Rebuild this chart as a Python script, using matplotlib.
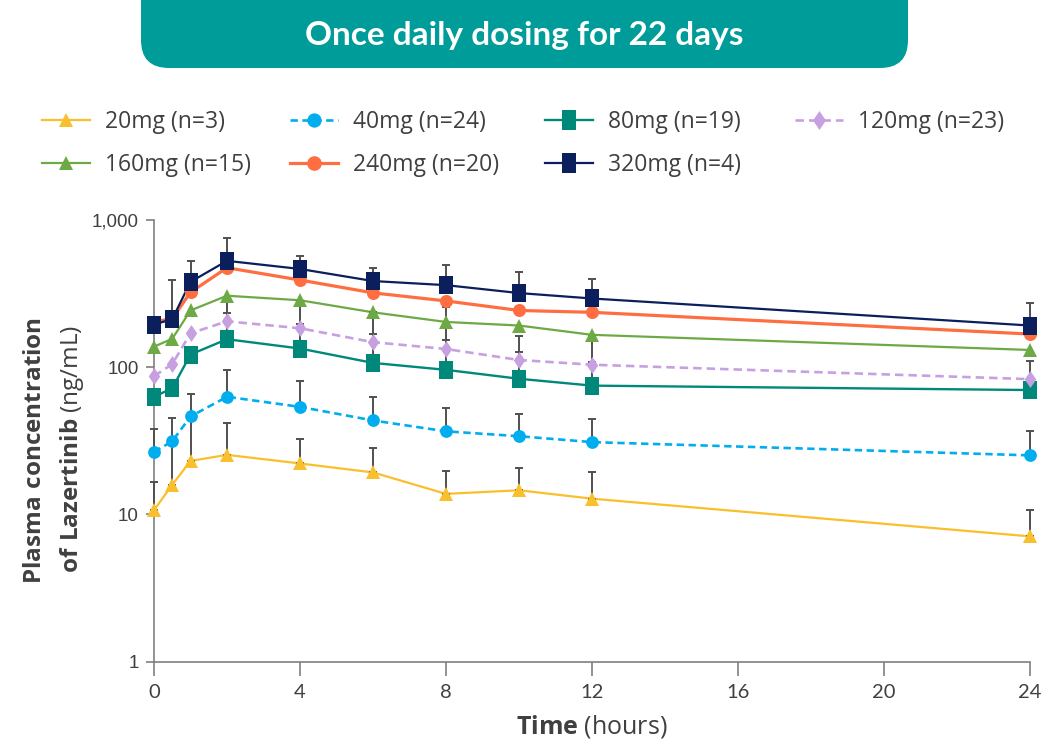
import numpy as np
import matplotlib
matplotlib.use("Agg")
import matplotlib.pyplot as plt
from matplotlib.lines import Line2D
from matplotlib.patches import FancyBboxPatch
from matplotlib.ticker import FixedLocator, NullLocator

plt.rcParams['mathtext.fontset'] = 'custom'
plt.rcParams['mathtext.rm'] = 'Open Sans'
plt.rcParams['mathtext.bf'] = 'Open Sans:bold'

nan = np.nan

# ---- data -------------------------------------------------------------
time_h = [0, 0.5, 1, 2, 4, 6, 8, 10, 12, 24]

labels = ["20mg (n=3)", "40mg (n=24)", "80mg (n=19)", "120mg (n=23)",
          "160mg (n=15)", "240mg (n=20)", "320mg (n=4)"]

# mean plasma concentration (ng/mL)
mean_20 = [10.7, 15.9, 23.1, 25.4, 22.2, 19.3, 13.8, 14.6, 12.8, 7.1]
mean_40 = [26.6, 31.4, 46.3, 63, 53.8, 43.5, 36.7, 34.0, 31.0, 25.2]
mean_80 = [63, 72, 122, 155, 134, 107, 96, 83.5, 75, 70]
mean_120 = [87, 105, 170, 205, 184, 148, 133, 112, 104, 83]
mean_160 = [138, 156, 243, 306, 285, 236, 203, 192, 166, 131]
mean_240 = [203, 214, 323, 474, 391, 320, 282, 243, 236, 168]
mean_320 = [195, 212, 380, 528, 465, 385, 361, 319, 293, 192]

# mean + SD (upper whisker end)
upper_20 = [16.6, 45, 66, 41.7, 32.8, 28.1, 19.6, 20.6, 19.3, 10.7]
upper_40 = [37.8, nan, nan, 96, 80.4, 62.3, 52.6, 48.2, 44.4, 36.9]
upper_80 = [nan, nan, nan, 233, 197, 168, 152, 126, 109, nan]
upper_120 = [nan, nan, nan, 296, 282, 236, 256, 163, 164, 111]
upper_160 = [nan] * 10
upper_240 = [nan] * 10
upper_320 = [nan, 391, 528, 753, 567, 470, 495, 442, 397, 272]

y_ticks = [1, 10, 100, 1000]
y_ticklabels = ["1", "10", "100", "1,000"]
x_ticks = [0, 4, 8, 12, 16, 20, 24]

# ---- styles -----------------------------------------------------------
rect_marker = [(-0.76, -1), (0.76, -1), (0.76, 1), (-0.76, 1), (-0.76, -1)]
diamond_marker = [(0, 1), (0.68, 0), (0, -1), (-0.68, 0), (0, 1)]

series = [
    (mean_20, upper_20, '#F9BF2C', '^', 9.4, '-', 1.6),
    (mean_40, upper_40, '#00AEEF', 'o', 9.2, (0, (2.8, 1.7)), 1.9),
    (mean_80, upper_80, '#00897B', rect_marker, 12.6, '-', 1.7),
    (mean_120, upper_120, '#C7A0E2', diamond_marker, 12.2, (0, (3.2, 1.9)), 1.9),
    (mean_160, upper_160, '#6DAA45', '^', 9.4, '-', 1.6),
    (mean_240, upper_240, '#FF6E40', 'o', 9.4, '-', 2.3),
    (mean_320, upper_320, '#0A1F5C', rect_marker, 12.6, '-', 1.6),
]

W, H = 1061, 745
fig = plt.figure(figsize=(W / 100, H / 100), dpi=100)
fig.patch.set_facecolor('white')

# ---- header banner ----------------------------------------------------
deco = fig.add_axes([0, 0, 1, 1], zorder=0)
deco.set_xlim(0, W)
deco.set_ylim(H, 0)
deco.axis('off')
deco.add_patch(FancyBboxPatch((141, -40), 767, 108,
                              boxstyle="round,pad=0,rounding_size=28",
                              facecolor='#009C99', edgecolor='none'))
deco.text(524, 35, "Once daily dosing for 22 days", color='white',
          fontsize=24, fontweight='bold', family='Lato',
          ha='center', va='center')

# ---- main axes --------------------------------------------------------
y_top_px, y_bot_px = 220, 661.7
x_left_px, x_right_px = 154, 1030
ax = fig.add_axes([x_left_px / W, 1 - y_bot_px / H,
                   (x_right_px - x_left_px) / W, (y_bot_px - y_top_px) / H],
                  zorder=1)
ax.set_facecolor('none')
ax.set_yscale('log')
ax.set_ylim(1, 1000)
ax.set_xlim(0, 24)

t = np.array(time_h, dtype=float)
for mean, upper, color, marker, ms, ls, lw in series:
    m = np.array(mean, dtype=float)
    up = np.array(upper, dtype=float)
    ax.plot(t, m, color=color, lw=lw, linestyle=ls, zorder=2, clip_on=False,
            solid_capstyle='butt')
    if not np.all(np.isnan(up)):
        ax.errorbar(t, m, yerr=[np.zeros_like(m), up - m], fmt='none',
                    ecolor='#505050', elinewidth=1.4, capsize=2.6,
                    capthick=1.4, zorder=3, clip_on=False)
    ax.plot(t, m, linestyle='none', marker=marker, ms=ms, color=color,
            markeredgewidth=0, zorder=4, clip_on=False)

for side in ('top', 'right'):
    ax.spines[side].set_visible(False)
for side in ('left', 'bottom'):
    ax.spines[side].set_color('#7F7F7F')
    ax.spines[side].set_linewidth(1.2)

ax.yaxis.set_major_locator(FixedLocator(y_ticks))
ax.yaxis.set_minor_locator(NullLocator())
ax.set_yticklabels(y_ticklabels)
ax.set_xticks(x_ticks)
ax.set_xticklabels([str(v) for v in x_ticks])
ax.tick_params(axis='y', length=6, width=1.2, color='#7F7F7F', pad=5,
               labelsize=13.5, labelcolor='#404040')
ax.tick_params(axis='x', length=10, width=1.2, color='#7F7F7F', pad=6,
               labelsize=14.5, labelcolor='#404040')
for lab in ax.get_yticklabels():
    lab.set_family('Liberation Sans')
for lab in ax.get_xticklabels():
    lab.set_family('Lato')

# axis titles
deco.text(35, 450, r'$\mathbf{Plasma\ concentration}$', rotation=90,
          fontsize=17.5, color='#404040', ha='center', va='center',
          family='Open Sans')
deco.text(72, 449, r'$\mathbf{of\ Lazertinib}$ (ng/mL)', rotation=90,
          fontsize=17.5, color='#404040', ha='center', va='center',
          family='Open Sans')
deco.text(592, 727, r'$\mathbf{Time}$ (hours)', fontsize=18,
          color='#404040', ha='center', va='center', family='Open Sans')

# ---- legend (two rows, four columns) ---------------------------------
col_x = [42, 290, 545, 795]
row_y = [122, 165]
positions = [(0, 0), (1, 0), (2, 0), (3, 0), (0, 1), (1, 1), (2, 1)]
for (mean, upper, color, marker, ms, ls, lw), label, (c, r) in zip(series, labels, positions):
    h = Line2D([], [], color=color, lw=lw, linestyle=ls, marker=marker,
               ms=ms * 1.12, markeredgewidth=0)
    fig.legend([h], [label], loc='center left',
               bbox_to_anchor=(col_x[c] / W, 1 - row_y[r] / H),
               frameon=False, borderpad=0, borderaxespad=0,
               handlelength=2.1, handletextpad=0.65,
               prop={'family': 'Open Sans', 'size': 16.5},
               labelcolor='#404040')

fig.savefig('out.png', dpi=100, facecolor='white')
